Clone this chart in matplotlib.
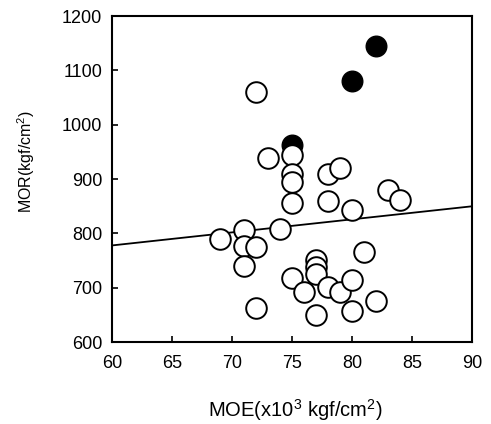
import numpy as np
import matplotlib.pyplot as plt

plt.rcParams['font.family'] = ['Liberation Sans', 'DejaVu Sans']
plt.rcParams['mathtext.fontset'] = 'custom'
plt.rcParams['mathtext.rm'] = 'Liberation Sans'

# open circles
moe_open = [72, 73, 75, 75, 75, 75, 78, 79, 78, 80, 83, 84,
            74, 71, 69, 71, 72, 71, 81, 77, 77, 77,
            75, 76, 78, 79, 80, 82, 72, 77, 80]
mor_open = [1060, 938, 944, 909, 895, 857, 909, 920, 860, 843, 880, 861,
            809, 806, 789, 777, 775, 740, 766, 751, 739, 726,
            719, 693, 702, 693, 714, 675, 662, 650, 658]

# filled circles
moe_fill = [82, 80, 75]
mor_fill = [1145, 1081, 962]

# regression line
fit_x = [60, 90]
fit_y = [778, 850]

fig = plt.figure(figsize=(4.91, 4.24), dpi=100)
ax = fig.add_axes([0.228, 0.193, 0.733, 0.769])

ax.plot(fit_x, fit_y, color='black', lw=1.3, zorder=1)
ax.scatter(moe_fill, mor_fill, s=220, color='black', zorder=2)
ax.scatter(moe_open, mor_open, s=220, facecolors='white', edgecolors='black',
           linewidths=1.4, zorder=3)

ax.set_xlim(60, 90)
ax.set_ylim(600, 1200)
ax.set_xticks(np.arange(60, 91, 5))
ax.set_yticks(np.arange(600, 1201, 100))
ax.tick_params(direction='in', length=4, width=1.2, labelsize=13)
ax.tick_params(axis='x', pad=9)
ax.tick_params(axis='y', pad=7)
for s in ax.spines.values():
    s.set_linewidth(1.5)

ax.set_xlabel(r'MOE(x10$^\mathrm{3}$ kgf/cm$^\mathrm{2}$)', fontsize=14.5)
ax.set_ylabel(r'MOR(kgf/cm$^\mathrm{2}$)', fontsize=11.5)
ax.xaxis.set_label_coords(0.51, -0.17)
ax.yaxis.set_label_coords(-0.208, 0.554)

fig.savefig('out.png', dpi=100)
